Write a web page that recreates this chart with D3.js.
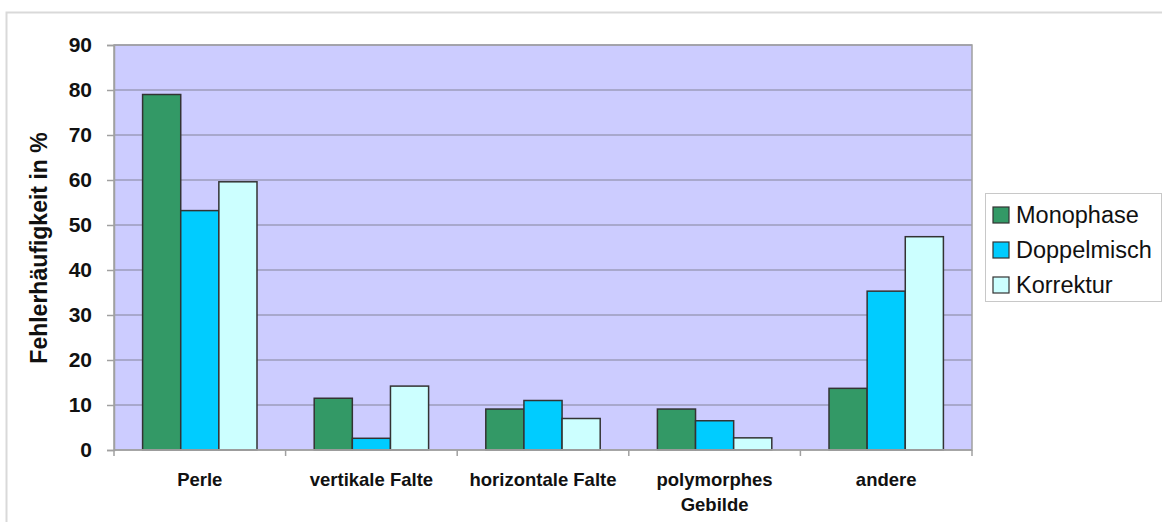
<!DOCTYPE html>
<html><head><meta charset="utf-8">
<script src="https://cdn.jsdelivr.net/npm/d3@7"></script>
<style>body{margin:0;background:#fff}svg{display:block;font-family:"Liberation Sans",Arial,sans-serif}</style>
</head><body><svg id="c" width="1162" height="522"></svg>
<script>
const categories = [["Perle"],["vertikale Falte"],["horizontale Falte"],["polymorphes","Gebilde"],["andere"]];
const seriesNames = ["Monophase","Doppelmisch","Korrektur"];
const monophase = [79, 11.5, 9.1, 9.1, 13.7];
const doppelmisch = [53.2, 2.6, 11.0, 6.5, 35.3];
const korrektur = [59.6, 14.2, 7.0, 2.7, 47.4];
const colors = ["#339966","#00CCFF","#CCFFFF"];
const yTicks = [0,10,20,30,40,50,60,70,80,90];

const svg = d3.select("#c");
const L=114, R=972, T=45, B=450;
const series=[monophase,doppelmisch,korrektur];
const catIdx = categories.map((d,i)=>i);

// outer frame
svg.append("rect").attr("x",6.5).attr("y",12.5).attr("width",1200).attr("height",600)
  .attr("fill","#fff").attr("stroke","#d9d9d9").attr("stroke-width",2);

const x = d3.scaleBand().domain(catIdx).range([L,R]).paddingInner(0).paddingOuter(0);
const bw = x.bandwidth()/4.5;
const x1 = d3.scaleBand().domain([0,1,2]).range([0, bw*3]);
const y = d3.scaleLinear().domain([0,90]).range([B,T]);

svg.append("rect").attr("x",L).attr("y",T).attr("width",R-L).attr("height",B-T).attr("fill","#CCCCFF");
svg.append("g").selectAll("line").data(yTicks.slice(1)).join("line")
  .attr("x1",L).attr("x2",R).attr("y1",d=>y(d)).attr("y2",d=>y(d))
  .attr("stroke","#9d9dbb").attr("stroke-width",1.5);

const g = svg.append("g");
series.forEach((s,si)=>{
  g.selectAll(null).data(s).join("rect")
    .attr("x",(d,i)=>x(i)+ (x.bandwidth()-bw*3)/2 + x1(si))
    .attr("y",d=>y(d)).attr("width",x1.bandwidth()).attr("height",d=>B-y(d))
    .attr("fill",colors[si]).attr("stroke","#333").attr("stroke-width",1.5);
});

svg.append("rect").attr("x",L).attr("y",T).attr("width",R-L).attr("height",B-T)
  .attr("fill","none").attr("stroke","#a0a0a0").attr("stroke-width",1.5);

// y axis
const ya = svg.append("g").attr("transform",`translate(${L},0)`)
  .call(d3.axisLeft(y).tickValues(yTicks).tickSize(7).tickPadding(15));
ya.select(".domain").attr("stroke","#a0a0a0").attr("stroke-width",1.5);
ya.selectAll(".tick line").attr("stroke","#a0a0a0").attr("stroke-width",1.5);
ya.selectAll(".tick text").attr("font-size",21).attr("font-weight","bold").attr("fill","#111")
  .attr("font-family","Liberation Sans, Arial, sans-serif");

// x axis
const xa = svg.append("g").attr("transform",`translate(0,${B})`);
xa.append("line").attr("x1",L).attr("x2",R).attr("y1",0).attr("y2",0).attr("stroke","#a0a0a0").attr("stroke-width",1.5);
xa.selectAll("line.t").data(d3.range(0,6)).join("line").attr("class","t")
  .attr("x1",d=>L+d*x.bandwidth()).attr("x2",d=>L+d*x.bandwidth()).attr("y1",0).attr("y2",6)
  .attr("stroke","#a0a0a0").attr("stroke-width",1.5);
const lbl = xa.selectAll("text").data(categories).join("text")
  .attr("x",(d,i)=>x(i)+x.bandwidth()/2).attr("y",35.5)
  .attr("text-anchor","middle").attr("font-size",18.5).attr("font-weight","bold").attr("fill","#111");
lbl.each(function(d){
  const t=d3.select(this);
  d.forEach((line,j)=>t.append("tspan").attr("x",t.attr("x")).attr("dy",j?25:0).text(line));
});

// y title
svg.append("text").attr("transform","translate(47,248) rotate(-90)").attr("text-anchor","middle")
  .attr("font-size",23).attr("font-weight","bold").attr("fill","#111").text("Fehlerhäufigkeit in %");

// legend
const lg = svg.append("g");
lg.append("rect").attr("x",985.5).attr("y",193.5).attr("width",176).attr("height",108)
  .attr("fill","#fff").attr("stroke","#c8c8c8").attr("stroke-width",1);
seriesNames.forEach((n,i)=>{
  const cy = 215 + i*35;
  lg.append("rect").attr("x",993).attr("y",cy-8).attr("width",16).attr("height",16)
    .attr("fill",colors[i]).attr("stroke","#333").attr("stroke-width",1.2);
  lg.append("text").attr("x",1016).attr("y",cy+7.5).attr("font-size",23.5).attr("fill","#111").text(n);
});
</script></body></html>
